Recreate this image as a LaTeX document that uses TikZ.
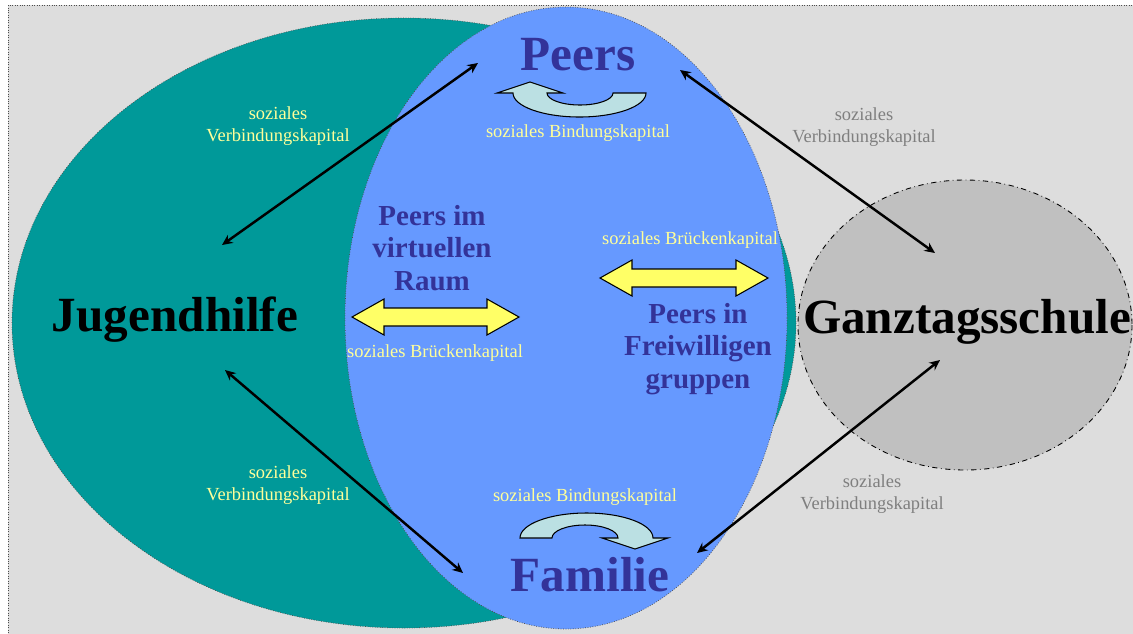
\documentclass[tikz,border=0pt]{standalone}
\usepackage{fontspec}
\setmainfont{Liberation Serif}
\usetikzlibrary{positioning,arrows.meta}
\definecolor{bgray}{HTML}{DDDDDD}
\definecolor{tealc}{HTML}{009999}
\definecolor{bluec}{HTML}{6699FF}
\definecolor{grayc}{HTML}{C0C0C0}
\definecolor{navyc}{HTML}{333399}
\definecolor{ytext}{HTML}{FFFF99}
\definecolor{yfill}{HTML}{FFFF66}
\definecolor{cyanc}{HTML}{BBE0E3}
\definecolor{gtext}{HTML}{7F7F7F}

% yellow double block arrow: left x, right x, mid y
\newcommand{\bridgearrow}[3]{%
	\draw[bridge] (#1,#3) -- ++(32,-18) -- ++(0,9) -- (#2-32,#3-9) -- ++(0,-9) -- (#2,#3)
		-- ++(-32,18) -- ++(0,-9) -- (#1+32,#3+9) -- ++(0,9) -- cycle;}

\begin{document}
\begin{tikzpicture}[x=0.02cm,y=0.02cm,yscale=-1,
	big/.style={font=\fontsize{28}{30}\selectfont\bfseries},
	mid/.style={font=\fontsize{16.5}{18.7}\selectfont\bfseries,text=navyc,align=center},
	small/.style={font=\fontsize{10.5}{12.5}\selectfont,align=center},
	link/.style={line width=1.4pt,{Stealth[length=6pt,width=5.5pt]}-{Stealth[length=6pt,width=5.5pt]}},
	bridge/.style={draw=black,line width=0.6pt,fill=yfill},
	turn/.style={draw=black,line width=0.6pt,fill=cyanc}]
	\useasboundingbox (0,0) rectangle (1133,633);
	\fill[white] (0,0) rectangle (1133,633);
	\draw[bgray,fill=bgray] (8,5) rectangle (1133,633);
	\draw[densely dotted,black!70] (8,633) -- (8,5) -- (1133,5);

	\draw[fill=tealc,draw=black!70,densely dotted,line width=0.4pt] (404,323) ellipse [x radius=392,y radius=305];
	\draw[fill=bluec,draw=black!70,densely dotted,line width=0.4pt] (566,318) ellipse [x radius=221,y radius=311];
	\draw[fill=grayc,draw=black,dash dot,line width=0.5pt] (965,325) ellipse [x radius=167,y radius=145];

	\node[big,text=navyc] (peers) at (578,55) {Peers};
	\node[big,text=navyc] (familie) at (590,575) {Familie};
	\node[big] (jugend) at (175,320) {Jugendhilfe};
	\node[big] (schule) at (967,322) {Ganztagsschule};
	\node[mid] (virtuell) at (432,248) {Peers im\\virtuellen\\Raum};
	\node[mid] (freiw) at (698,349) {Peers in\\Freiwilligen\\gruppen};

	% curved arrows
	\draw[turn] (646,93) arc[start angle=0,end angle=180,x radius=66.5,y radius=24]
		-- (497,93) -- (530,82) -- (563,93) -- (547,93)
		arc[start angle=180,end angle=0,x radius=33,y radius=12] -- cycle;
	\draw[turn] (520,538) arc[start angle=180,end angle=360,x radius=66.5,y radius=25]
		-- (668,538) -- (635,549) -- (602,538) -- (618,538)
		arc[start angle=0,end angle=-180,x radius=33,y radius=13] -- cycle;

	\bridgearrow{352}{519}{317}
	\bridgearrow{600}{768}{278}

	\node[small,text=ytext] (bind1) at (578,133) {soziales Bindungskapital};
	\node[small,text=ytext] (bind2) at (585,497) {soziales Bindungskapital};
	\node[small,text=ytext] (brueck1) at (435,353) {soziales Brückenkapital};
	\node[small,text=ytext] (brueck2) at (690,240) {soziales Brückenkapital};
	\node[small,text=ytext] (verb1) at (278,126) {soziales\\Verbindungskapital};
	\node[small,text=ytext] (verb2) at (278,485) {soziales\\Verbindungskapital};
	\node[small,text=gtext] (verb3) at (864,127) {soziales\\Verbindungskapital};
	\node[small,text=gtext] (verb4) at (872,494) {soziales\\Verbindungskapital};

	\coordinate (j1) at (222,245);
	\coordinate (p1) at (478,63);
	\coordinate (j2) at (225,370);
	\coordinate (f1) at (463,573);
	\coordinate (p2) at (680,70);
	\coordinate (s1) at (935,253);
	\coordinate (f2) at (697,553);
	\coordinate (s2) at (940,360);
	\draw[link] (j1) -- (p1);
	\draw[link] (j2) -- (f1);
	\draw[link] (p2) -- (s1);
	\draw[link] (f2) -- (s2);
\end{tikzpicture}
\end{document}
